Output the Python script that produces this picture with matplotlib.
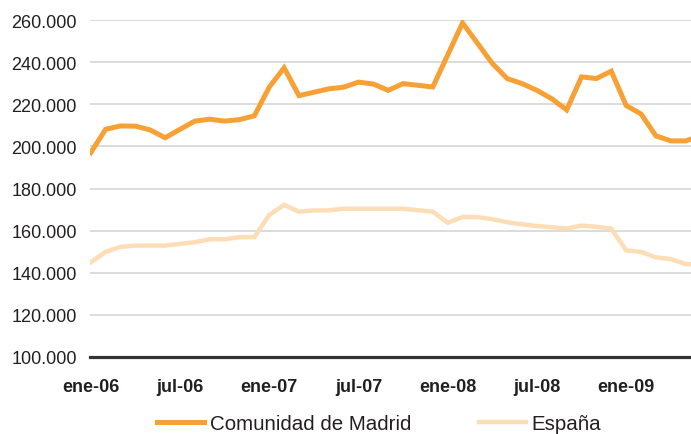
import matplotlib
matplotlib.use("Agg")
import matplotlib.pyplot as plt
import matplotlib.ticker as mt
import numpy as np

plt.rcParams['font.family'] = ['Liberation Sans', 'DejaVu Sans']

# monthly series, ene-06 .. jun-09 (last month cut by the right edge)
meses = ["ene", "feb", "mar", "abr", "may", "jun", "jul", "ago", "sep", "oct", "nov", "dic"]
labels = [m + "-%02d" % (6 + i // 12) for i, m in enumerate(meses * 4)][:42]

madrid = [197000, 208100, 209700, 209600, 207800, 204100, 208100, 212000, 212900, 212000,
          212700, 214500, 228100, 237300, 224100, 225700, 227300, 228100, 230500, 229600,
          226600, 229800, 229000, 228200, 243400, 258600, 249000, 239400, 232200, 229800,
          226600, 222600, 217300, 233000, 232200, 235700, 219400, 215400, 205000, 202600,
          202600, 205000]
espana = [145000, 149900, 152300, 152900, 152900, 152900, 153700, 154500, 155900, 155900,
          156900, 156900, 167400, 172200, 169000, 169600, 169600, 170400, 170400, 170400,
          170400, 170400, 169700, 169000, 163700, 166500, 166400, 165400, 164000, 163000,
          162200, 161600, 161000, 162400, 161800, 161000, 150600, 149900, 147300, 146500,
          144100, 143900]

x = np.arange(len(madrid))

fig = plt.figure(figsize=(6.91, 4.35), dpi=100)
ax = fig.add_axes([90 / 691, 1 - 358 / 435, 601 / 691, 337 / 435])

ax.plot(x, madrid, color="#F7A034", lw=3.6, label="Comunidad de Madrid", solid_joinstyle="miter")
ax.plot(x, espana, color="#FDDDB6", lw=3.2, label="España", solid_joinstyle="miter")

ax.set_ylim(100000, 260000)
ax.set_xlim(-0.05, 40.36)
ax.yaxis.set_major_locator(mt.MultipleLocator(20000))
ax.yaxis.set_major_formatter(mt.FuncFormatter(lambda v, p: f"{v:,.0f}".replace(",", ".")))
ax.set_xticks(x[:41:6])
ax.set_xticklabels(labels[:41:6], fontweight="bold", fontsize=13, color="#231F20")
ax.tick_params(axis="x", length=0, pad=15)
ax.tick_params(axis="y", length=0, pad=9.5, labelsize=13, labelcolor="#231F20")

ax.grid(axis="y", color="#D9D9D9", lw=1.3)
ax.set_axisbelow(True)
for s in ["top", "right", "left"]:
    ax.spines[s].set_visible(False)
ax.spines["bottom"].set_color("#333333")
ax.spines["bottom"].set_linewidth(2.3)
ax.spines["bottom"].set_zorder(5)

fig.legend(loc="center", bbox_to_anchor=(379 / 691, 10 / 435), ncol=2, frameon=False,
           fontsize=14.8, handlelength=2.3, handletextpad=0.25, columnspacing=3.3,
           borderpad=0, labelcolor="#231F20")

fig.savefig("out.png", dpi=100)
